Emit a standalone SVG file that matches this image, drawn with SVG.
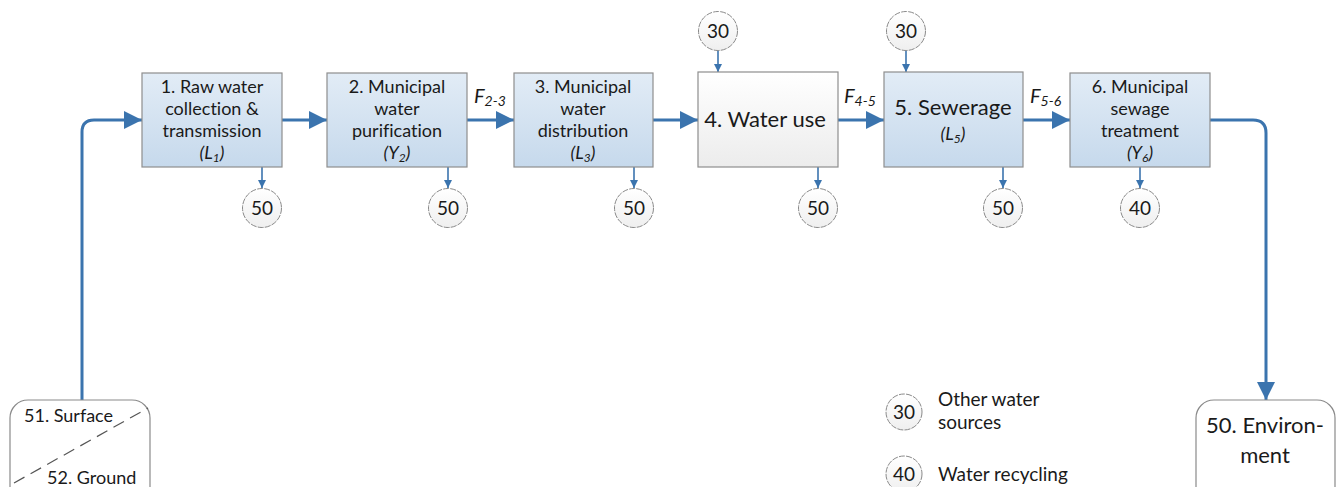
<svg xmlns="http://www.w3.org/2000/svg" width="1336" height="487" viewBox="0 0 1336 487">
  <defs>
    <linearGradient id="blueFill" x1="0" y1="0" x2="0" y2="1">
      <stop offset="0" stop-color="#e2ecf6"/>
      <stop offset="1" stop-color="#c6d9ec"/>
    </linearGradient>
    <linearGradient id="greyFill" x1="0" y1="0" x2="0" y2="1">
      <stop offset="0" stop-color="#ffffff"/>
      <stop offset="1" stop-color="#ececec"/>
    </linearGradient>
    <linearGradient id="circleFill" x1="0" y1="0" x2="0" y2="1">
      <stop offset="0" stop-color="#ffffff"/>
      <stop offset="1" stop-color="#efefef"/>
    </linearGradient>
    <marker id="bigHead" viewBox="0 0 10 10" refX="10" refY="5" markerUnits="userSpaceOnUse" markerWidth="18" markerHeight="19" orient="auto">
      <path d="M0,0 L10,5 L0,10 Z" fill="#3b74ae"/>
    </marker>
    <marker id="smallHead" viewBox="0 0 10 10" refX="10" refY="5" markerUnits="userSpaceOnUse" markerWidth="8" markerHeight="13" orient="auto">
      <path d="M0,0 L10,5 L0,10 Z" fill="#3b74ae"/>
    </marker>
  </defs>
  <style>
    text { font-family: Lato, "Open Sans", "Liberation Sans", sans-serif; fill: #1a1a1a; font-variant-ligatures: none; }
    .lbl { font-size: 18px; text-anchor: middle; }
    .big { font-size: 22px; text-anchor: middle; }
    .it { font-style: italic; }
    .flow { font-size: 20px; font-style: italic; }
    .num { font-size: 19px; text-anchor: middle; }
    .leg { font-size: 19px; }
    .src { font-size: 18px; }
    .box { stroke: #8e8e8e; stroke-width: 1.2; }
    .blue { fill: url(#blueFill); }
    .grey { fill: url(#greyFill); }
    .circ { fill: url(#circleFill); stroke: #8a8a8a; stroke-width: 1; stroke-dasharray: 6 1.2; }
    .rbox { fill: #ffffff; stroke: #8a8a8a; stroke-width: 1.2; }
    .main { fill: none; stroke: #3b74ae; stroke-width: 3; marker-end: url(#bigHead); }
    .thin { fill: none; stroke: #3b74ae; stroke-width: 1.6; marker-end: url(#smallHead); }
  </style>

  <!-- connectors -->
  <g id="connectors">
    <path class="main" d="M82,400 V132 Q82,120 94,120 H142"/>
    <path class="main" d="M282,120 H327"/>
    <path class="main" d="M467,120 H514"/>
    <path class="main" d="M653,120 H698"/>
    <path class="main" d="M838,120 H884"/>
    <path class="main" d="M1023,120 H1070"/>
    <path class="main" d="M1210,120 H1253 Q1266,120 1266,133 V400"/>
    <path class="thin" d="M262,167 V188"/>
    <path class="thin" d="M448,167 V188"/>
    <path class="thin" d="M634,167 V188"/>
    <path class="thin" d="M818,167 V188"/>
    <path class="thin" d="M1003,167 V188"/>
    <path class="thin" d="M1140,167 V188"/>
    <path class="thin" d="M718,50 V72"/>
    <path class="thin" d="M906,50 V72"/>
  </g>

  <!-- flow labels -->
  <g id="flow-labels">
    <text class="flow" x="474" y="103">F<tspan font-size="14" dy="3">2-3</tspan></text>
    <text class="flow" x="844" y="103">F<tspan font-size="14" dy="3">4-5</tspan></text>
    <text class="flow" x="1030" y="103">F<tspan font-size="14" dy="3">5-6</tspan></text>
  </g>

  <g id="node1">
    <rect class="box blue" x="142" y="73" width="140" height="94"/>
    <text class="lbl" x="212" y="93">1. Raw water</text>
    <text class="lbl" x="212" y="115">collection &amp;</text>
    <text class="lbl" x="212" y="137">transmission</text>
    <text class="lbl it" x="212" y="159">(L<tspan font-size="12" dy="3">1</tspan><tspan dy="-3">)</tspan></text>
  </g>
  <g id="node2">
    <rect class="box blue" x="327" y="73" width="140" height="94"/>
    <text class="lbl" x="397" y="93">2. Municipal</text>
    <text class="lbl" x="397" y="115">water</text>
    <text class="lbl" x="397" y="137">purification</text>
    <text class="lbl it" x="397" y="159">(Y<tspan font-size="12" dy="3">2</tspan><tspan dy="-3">)</tspan></text>
  </g>
  <g id="node3">
    <rect class="box blue" x="514" y="73" width="139" height="94"/>
    <text class="lbl" x="583" y="93">3. Municipal</text>
    <text class="lbl" x="583" y="115">water</text>
    <text class="lbl" x="583" y="137">distribution</text>
    <text class="lbl it" x="583" y="159">(L<tspan font-size="12" dy="3">3</tspan><tspan dy="-3">)</tspan></text>
  </g>
  <g id="node4">
    <rect class="box grey" x="698" y="72" width="140" height="95"/>
    <text class="big" x="765" y="127">4. Water use</text>
  </g>
  <g id="node5">
    <rect class="box blue" x="884" y="72" width="139" height="95"/>
    <text class="big" x="953" y="115">5. Sewerage</text>
    <text class="lbl it" x="953" y="140">(L<tspan font-size="12" dy="3">5</tspan><tspan dy="-3">)</tspan></text>
  </g>
  <g id="node6">
    <rect class="box blue" x="1070" y="73" width="140" height="94"/>
    <text class="lbl" x="1140" y="93">6. Municipal</text>
    <text class="lbl" x="1140" y="115">sewage</text>
    <text class="lbl" x="1140" y="137">treatment</text>
    <text class="lbl it" x="1140" y="159">(Y<tspan font-size="12" dy="3">6</tspan><tspan dy="-3">)</tspan></text>
  </g>

  <!-- outflow / inflow markers -->
  <g id="out1"><circle class="circ" cx="262" cy="208" r="19.5"/><text class="num" x="262" y="215">50</text></g>
  <g id="out2"><circle class="circ" cx="448" cy="208" r="19.5"/><text class="num" x="448" y="215">50</text></g>
  <g id="out3"><circle class="circ" cx="634" cy="208" r="19.5"/><text class="num" x="634" y="215">50</text></g>
  <g id="out4"><circle class="circ" cx="818" cy="208" r="19.5"/><text class="num" x="818" y="215">50</text></g>
  <g id="out5"><circle class="circ" cx="1003" cy="208" r="19.5"/><text class="num" x="1003" y="215">50</text></g>
  <g id="out6"><circle class="circ" cx="1140" cy="208" r="19.5"/><text class="num" x="1140" y="215">40</text></g>
  <g id="in4"><circle class="circ" cx="718" cy="31" r="19.5"/><text class="num" x="718" y="38">30</text></g>
  <g id="in5"><circle class="circ" cx="906" cy="31" r="19.5"/><text class="num" x="906" y="38">30</text></g>

  <!-- source and sink -->
  <g id="source">
    <rect class="rbox" x="10" y="400" width="140" height="110" rx="18"/>
    <line x1="14" y1="483" x2="148" y2="408" stroke="#555" stroke-width="1.2" stroke-dasharray="12 7"/>
    <text class="src" x="24" y="422">51. Surface</text>
    <text class="src" x="47" y="484">52. Ground</text>
  </g>
  <g id="environment">
    <rect class="rbox" x="1196" y="400" width="139" height="110" rx="18"/>
    <text class="big" x="1265" y="433">50. Environ-</text>
    <text class="big" x="1265" y="463">ment</text>
  </g>

  <!-- legend -->
  <g id="legend">
    <circle class="circ" cx="904" cy="412" r="18"/><text class="num" x="904" y="419">30</text>
    <text class="leg" x="938" y="406">Other water</text>
    <text class="leg" x="938" y="429">sources</text>
    <circle class="circ" cx="904" cy="474" r="18"/><text class="num" x="904" y="481">40</text>
    <text class="leg" x="938" y="481">Water recycling</text>
  </g>
</svg>
